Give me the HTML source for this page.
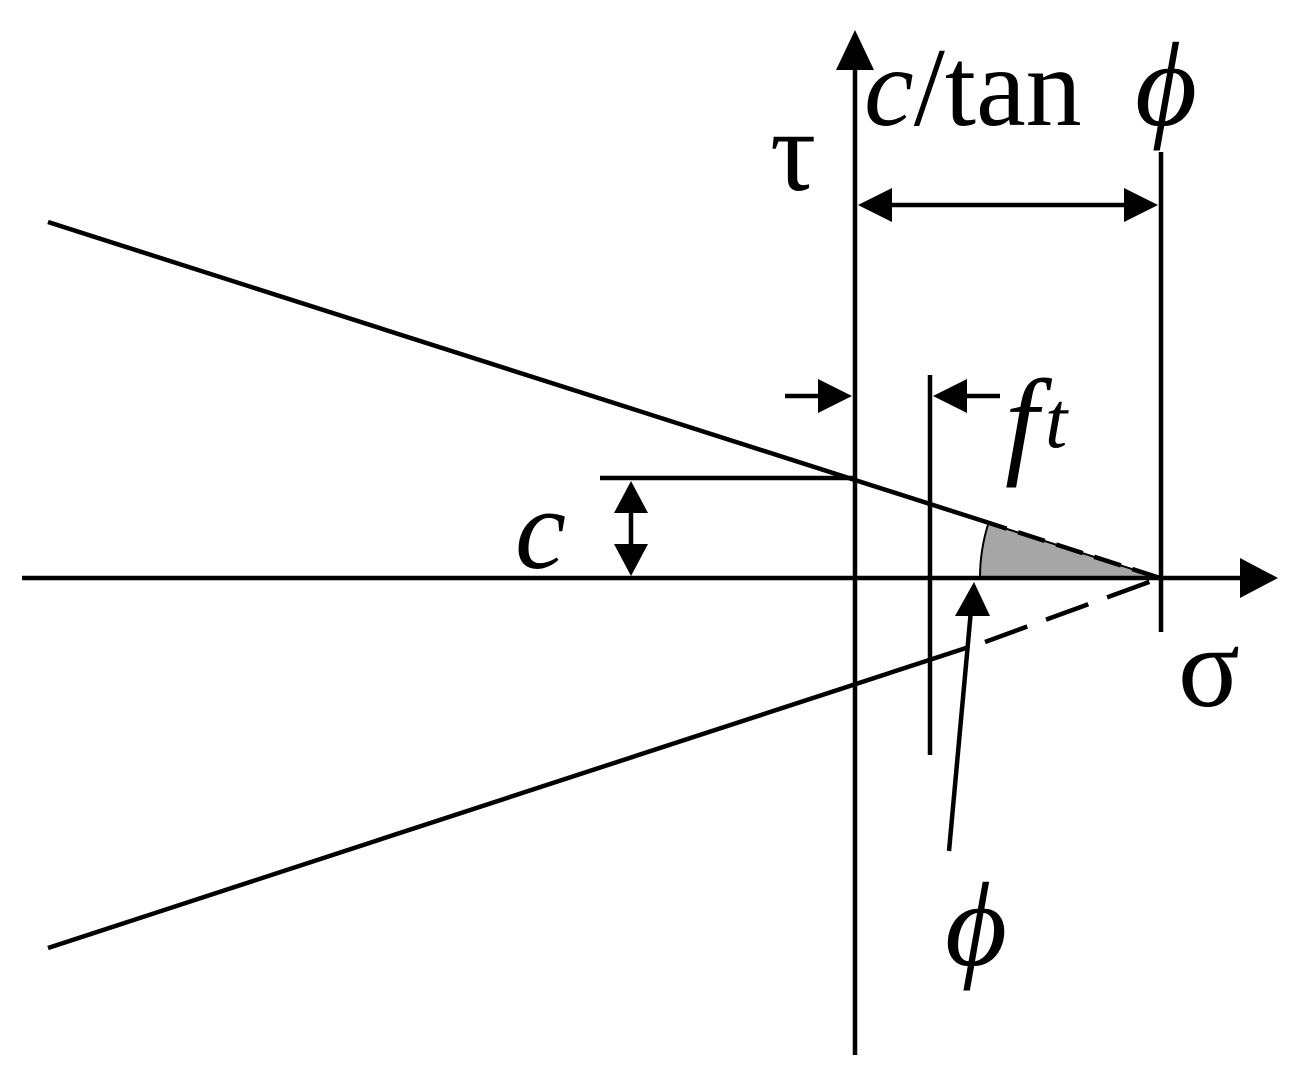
<!DOCTYPE html>
<html><head><style>html,body{margin:0;padding:0;background:#fff}</style></head>
<body>
<svg width="1297" height="1073" viewBox="0 0 1297 1073" xmlns="http://www.w3.org/2000/svg">
<g stroke="#000" stroke-width="4.5" fill="none">
<path d="M980,578 A180,180 0 0 1 988.5,523 L1160,578 Z" fill="#a6a6a6" stroke-width="2"/>
<line x1="22" y1="578" x2="1250" y2="578"/>
<path d="M1278,578 L1240,558 L1240,598 z" fill="#000" stroke="none"/>
<line x1="855" y1="1055" x2="855" y2="62"/>
<path d="M855,30 L836,70 L874,70 z" fill="#000" stroke="none"/>
<line x1="48" y1="222" x2="980" y2="520"/>
<line x1="980" y1="520" x2="1160" y2="578" stroke-dasharray="28,12"/>
<line x1="48" y1="948" x2="966" y2="648"/>
<line x1="985" y1="642" x2="1160" y2="578" stroke-dasharray="45,20"/>
<line x1="1161" y1="152" x2="1161" y2="632"/>
<line x1="930" y1="375" x2="930" y2="755"/>
<line x1="600" y1="478" x2="855" y2="478"/>
<line x1="890" y1="205" x2="1125" y2="205"/>
<path d="M858,205 L892,188 L892,222 z" fill="#000" stroke="none"/>
<path d="M1158,205 L1124,188 L1124,222 z" fill="#000" stroke="none"/>
<line x1="785" y1="396" x2="825" y2="396"/>
<path d="M852,396 L818,379 L818,413 z" fill="#000" stroke="none"/>
<line x1="965" y1="396" x2="1000" y2="396"/>
<path d="M933,396 L967,379 L967,413 z" fill="#000" stroke="none"/>
<line x1="631" y1="505" x2="631" y2="552"/>
<path d="M631,481 L614,513 L648,513 z" fill="#000" stroke="none"/>
<path d="M631,576 L614,544 L648,544 z" fill="#000" stroke="none"/>
<line x1="949" y1="851" x2="971" y2="610"/>
<path d="M974,582 L955,616 L990,616 z" fill="#000" stroke="none"/>
</g>
<g font-family="'Liberation Serif', serif" fill="#000">
<text x="770" y="190" font-size="115">τ</text>
<text x="864" y="125" font-size="112"><tspan font-style="italic">c</tspan>/tan</text>
<text x="1135" y="125" font-size="120" font-style="italic">ϕ</text>
<text x="1005" y="462" font-size="120" font-style="italic">f</text>
<text x="1045" y="447" font-size="80" font-style="italic">t</text>
<text x="515" y="568" font-size="115" font-style="italic">c</text>
<text x="1178" y="706" font-size="115">σ</text>
<text x="945" y="965" font-size="120" font-style="italic">ϕ</text>
</g>
</svg>
</body></html>
